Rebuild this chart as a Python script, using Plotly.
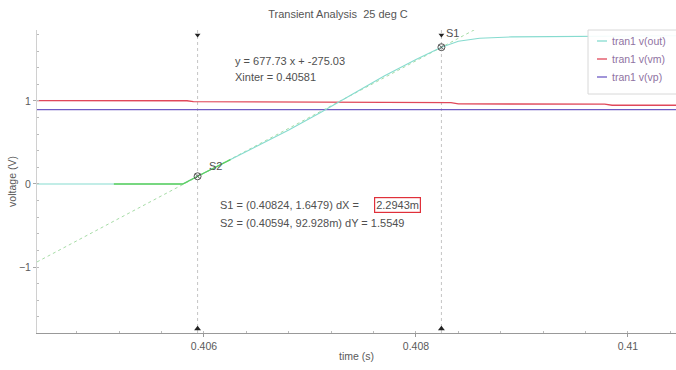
import numpy as np
import plotly.graph_objects as go

# ---- data -----------------------------------------------------------------
t_out = [0.404425, 0.4050, 0.4055, 0.40580, 0.40594, 0.4062, 0.4065, 0.4068,
         0.4071, 0.4074, 0.4077, 0.4080, 0.40824, 0.4084, 0.4086, 0.4089,
         0.4095, 0.4100, 0.410453]
v_out = [0.0, 0.0, 0.0, 0.0, 0.092928, 0.26, 0.46, 0.65,
         0.86, 1.08, 1.30, 1.50, 1.6479, 1.72, 1.755, 1.772,
         1.78, 1.783, 1.785]

t_vm = [0.404425, 0.40584, 0.40590, 0.4073, 0.40833, 0.40840, 0.40978, 0.40985, 0.410453]
v_vm = [1.004, 1.002, 0.992, 0.985, 0.980, 0.965, 0.962, 0.948, 0.948]

t_vp = [0.404425, 0.4060, 0.4080, 0.410453]
v_vp = [0.895, 0.895, 0.895, 0.895]

# linear fit through the two cursors
fit_slope = 677.73
fit_icpt = -275.03
x_inter = 0.40581

# cursors
cursor_names = ["S1", "S2"]
cursor_t = [0.40824, 0.40594]
cursor_v = [1.6479, 0.092928]
dX_label = "2.2943m"
dY_label = "1.5549"

# axis layout
x_range = [0.404425, 0.410453]
y_range = [-1.795, 1.855]
x_ticks = [0.406, 0.408, 0.41]
x_ticktext = ["0.406", "0.408", "0.41"]
y_ticks = [-1, 0, 1]
y_ticktext = ["\u22121", "0", "1"]

series_names = ["tran1 v(out)", "tran1 v(vm)", "tran1 v(vp)"]
c_out, c_vm, c_vp = "#86dbcf", "#e0485a", "#6f5cc4"
c_hl = "#5fcf5f"
c_fit = "#a6dca6"

W, H = 676, 370
ML, MR, MT, MB = 37, 0, 30, 37
PW, PH = W - ML - MR, H - MT - MB


def px(xp):
    return (xp - ML) / PW


def py(yp):
    return (H - MB - yp) / PH


fig = go.Figure()

# fitted line (dotted)
t_fit = np.array(x_range)
fig.add_trace(go.Scatter(x=t_fit, y=fit_slope * t_fit + fit_icpt, mode="lines",
                         line=dict(color=c_fit, width=1, dash="dot"),
                         showlegend=False, hoverinfo="skip"))

fig.add_trace(go.Scatter(x=t_vm, y=v_vm, mode="lines", line=dict(color=c_vm, width=1.4),
                         name=series_names[1], showlegend=False))
fig.add_trace(go.Scatter(x=t_vp, y=v_vp, mode="lines", line=dict(color=c_vp, width=1.3),
                         name=series_names[2], showlegend=False))
fig.add_trace(go.Scatter(x=t_out, y=v_out, mode="lines", line=dict(color=c_out, width=1.1),
                         name=series_names[0], showlegend=False))

# highlighted portion of v(out) around the lower cursor
hl_lo, hl_hi = 0.40515, 0.40625
ta = np.array(t_out)
va = np.array(v_out)
sel = (ta > hl_lo) & (ta < hl_hi)
t_hl = np.concatenate([[hl_lo], ta[sel], [hl_hi]])
v_hl = np.concatenate([[np.interp(hl_lo, ta, va)], va[sel], [np.interp(hl_hi, ta, va)]])
fig.add_trace(go.Scatter(x=t_hl, y=v_hl, mode="lines", line=dict(color=c_hl, width=1.3),
                         showlegend=False, hoverinfo="skip"))

# cursor lines with end arrows
for name, tc, vc in zip(cursor_names, cursor_t, cursor_v):
    fig.add_shape(type="line", xref="x", yref="paper", x0=tc, x1=tc, y0=0, y1=1,
                  line=dict(color="#c4c4c4", width=1, dash="dot"), layer="below")
fig.add_trace(go.Scatter(x=cursor_t, y=[y_range[1] - 0.06] * 2, mode="markers",
                         marker=dict(symbol="triangle-down", size=5, color="#222"),
                         cliponaxis=False, showlegend=False, hoverinfo="skip"))
fig.add_trace(go.Scatter(x=cursor_t, y=[y_range[0] + 0.05] * 2, mode="markers",
                         marker=dict(symbol="triangle-up", size=6, color="#222"),
                         cliponaxis=False, showlegend=False, hoverinfo="skip"))
fig.add_trace(go.Scatter(x=cursor_t, y=cursor_v, mode="markers",
                         marker=dict(symbol="circle-x-open", size=7, color="#555",
                                     line=dict(width=1)),
                         showlegend=False, hoverinfo="skip"))

font = dict(family="Arial, Liberation Sans, sans-serif", size=11, color="#505050")
small = dict(family="Arial, Liberation Sans, sans-serif", size=10.5, color="#5a5a5a")

# cursor name labels
fig.add_annotation(x=cursor_t[0], y=cursor_v[0], xref="x", yref="y", text=cursor_names[0],
                   showarrow=False, xanchor="left", yanchor="bottom", xshift=3, yshift=6,
                   font=font)
fig.add_annotation(x=cursor_t[1], y=cursor_v[1], xref="x", yref="y", text=cursor_names[1],
                   showarrow=False, xanchor="left", yanchor="bottom", xshift=9, yshift=2,
                   font=font)

# fit information
fig.add_annotation(x=px(233), y=py(61), xref="paper", yref="paper",
                   text=f"y = {fit_slope:.2f} x + {fit_icpt:.2f}", showarrow=False,
                   xanchor="left", yanchor="middle", font=font)
fig.add_annotation(x=px(233), y=py(77), xref="paper", yref="paper",
                   text=f"Xinter = {x_inter:.5f}", showarrow=False,
                   xanchor="left", yanchor="middle", font=font)

# cursor readout
fig.add_annotation(x=px(218), y=py(205), xref="paper", yref="paper",
                   text=f"S1 = ({cursor_t[0]:.5f}, {cursor_v[0]:.4f}) dX = ",
                   showarrow=False, xanchor="left", yanchor="middle", font=font)
fig.add_annotation(x=px(374), y=py(205), xref="paper", yref="paper",
                   text=dX_label, showarrow=False, xanchor="left", yanchor="middle",
                   font=font, bordercolor="#e0303a", borderwidth=1.2, borderpad=1)
fig.add_annotation(x=px(218), y=py(223), xref="paper", yref="paper",
                   text=f"S2 = ({cursor_t[1]:.5f}, {cursor_v[1]*1000:.3f}m) dY = {dY_label}",
                   showarrow=False, xanchor="left", yanchor="middle", font=font)

# legend box
fig.add_shape(type="rect", xref="paper", yref="paper", x0=px(588), x1=px(679),
              y0=py(94), y1=py(30), line=dict(color="#d8d8d8", width=1),
              fillcolor="rgba(255,255,255,0.9)")
for i, (nm, col) in enumerate(zip(series_names, [c_out, c_vm, c_vp])):
    yy = py(41 + 18 * i)
    fig.add_shape(type="line", xref="paper", yref="paper", x0=px(597), x1=px(607),
                  y0=yy, y1=yy, line=dict(color=col, width=1.3))
    fig.add_annotation(x=px(610), y=yy, xref="paper", yref="paper", text=nm,
                       showarrow=False, xanchor="left", yanchor="middle",
                       font=dict(family="Arial, Liberation Sans, sans-serif", size=10.5,
                                 color="#8f72a2"))

fig.update_layout(
    width=W, height=H,
    margin=dict(l=ML, r=MR, t=MT, b=MB),
    paper_bgcolor="white", plot_bgcolor="white",
    title=dict(text="Transient Analysis  25 deg C", x=0.5, xanchor="center",
               y=1 - 14 / H, yanchor="middle",
               font=dict(family="Arial, Liberation Sans, sans-serif", size=11, color="#555")),
    showlegend=False,
    xaxis=dict(range=x_range, tickvals=x_ticks, ticktext=x_ticktext,
               showgrid=False, zeroline=False, showline=True, linecolor="#999",
               linewidth=1, ticks="outside", ticklen=3, tickcolor="#999",
               tickfont=small,
               minor=dict(dtick=0.0004, tick0=0.406, ticks="inside", ticklen=2,
                          tickcolor="#bbb", showgrid=False),
               title=dict(text="time (s)", font=small, standoff=2)),
    yaxis=dict(range=y_range, tickvals=y_ticks, ticktext=y_ticktext,
               showgrid=False, zeroline=False, showline=True, linecolor="#d0d0d0",
               linewidth=1, ticks="outside", ticklen=3, tickcolor="#aaa",
               tickfont=small,
               minor=dict(dtick=0.2, tick0=0, ticks="inside", ticklen=2,
                          tickcolor="#bbb", showgrid=False),
               title=dict(text="voltage (V)", font=small, standoff=0)),
)

fig.write_html("out.html")
